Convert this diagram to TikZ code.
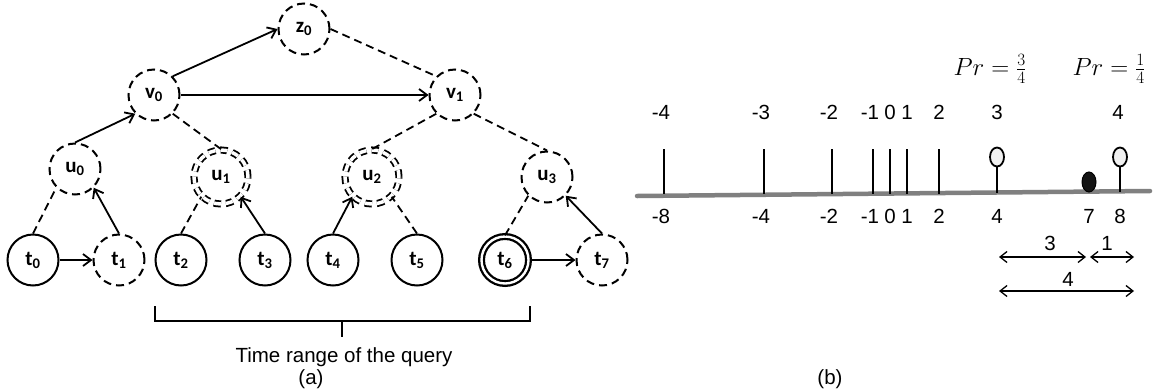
\documentclass[tikz,border=0pt]{standalone}
\usepackage{fontspec}
\setmainfont{Liberation Sans}
\newfontfamily\nodefont{Carlito}
\usetikzlibrary{arrows.meta,shapes.geometric}
\newcommand\nl[2]{#1\textsubscript{#2}}
\begin{document}
\begin{tikzpicture}[x=1pt,y=-1pt,
  every node/.style={inner sep=0pt},
  tn/.style={circle, draw, line width=2pt, minimum size=51pt, font=\nodefont\bfseries\fontsize{21}{21}\selectfont},
  dn/.style={tn, dash pattern=on 8pt off 5pt},
  ddn/.style={tn, double, double distance=3.5pt, line width=1.8pt, minimum size=54pt, dash pattern=on 7pt off 5pt},
  sdn/.style={tn, double, double distance=2.4pt, line width=2.3pt, minimum size=47pt},
  arr/.style={line width=1.8pt, -{Straight Barb[length=8pt,width=12pt,line width=1.8pt]}},
  dl/.style={line width=1.8pt, dash pattern=on 8pt off 5pt},
  txt/.style={font=\fontsize{20.5}{20.5}\selectfont},
  tick/.style={line width=2pt},
  darr/.style={line width=1.3pt, {Straight Barb[length=7pt,width=11pt,line width=1.3pt]}-{Straight Barb[length=7pt,width=11pt,line width=1.3pt]}},
  lolli/.style={ellipse, draw, line width=1.8pt, fill=black!6, minimum width=14pt, minimum height=19pt},
]
\useasboundingbox (0,0) rectangle (1156,389);
% ---------- (a) tree ----------
\node[dn] (z0) at (304,29) {\nl{z}{0}};
\node[dn] (v0) at (154,95) {\nl{v}{0}};
\node[dn] (v1) at (455,95) {\nl{v}{1}};
\node[dn] (u0) at (75,169) {\nl{u}{0}};
\node[ddn] (u1) at (221,177) {\nl{u}{1}};
\node[ddn] (u2) at (372,177) {\nl{u}{2}};
\node[dn] (u3) at (547,177) {\nl{u}{3}};
\node[tn] (t0) at (33,260) {\nl{t}{0}};
\node[dn] (t1) at (119,260) {\nl{t}{1}};
\node[tn] (t2) at (181,260) {\nl{t}{2}};
\node[tn] (t3) at (265,260) {\nl{t}{3}};
\node[tn] (t4) at (333,260) {\nl{t}{4}};
\node[tn] (t5) at (417,260) {\nl{t}{5}};
\node[sdn] (t6) at (505,260) {\nl{t}{6}};
\node[dn] (t7) at (602,260) {\nl{t}{7}};

\draw[arr] (t0) -- (t1);
\draw[arr] (t1.north) -- (u0.south east);
\draw[arr] (u0.north) -- (v0.south west);
\draw[arr] (v0.north east) -- (z0.west);
\draw[arr] (v0) -- (v1);
\draw[arr] (t3.north) -- (u1.south east);
\draw[arr] (t4.north) -- (u2.south west);
\draw[arr] (t6) -- (t7);
\draw[arr] (t7.north) -- (u3.south east);

\draw[dl] (t0.north) -- (u0.south west);
\draw[dl] (t2.north) -- (u1.south west);
\draw[dl] (t5.north) -- (u2.south east);
\draw[dl] (t6.north) -- (u3.south west);
\draw[dl] (v0.south east) -- (u1.north);
\draw[dl] (v1.south west) -- (u2.north);
\draw[dl] (v1.south east) -- (u3.north);
\draw[dl] (z0.east) -- (v1.north west);

\coordinate (bl) at (155,306);
\coordinate (br) at (530,306);
\coordinate (bm) at (342,321);
\draw[line width=1.8pt] (bl) -- (bl |- bm) -- (br |- bm) -- (br);
\draw[line width=1.8pt] (bm) -- ++(0,16);
\node[txt] (trq) at (344,357) {Time range of the query};
\node[txt] (la) at (311,379) {(a)};

% ---------- (b) number line ----------
\coordinate (L0) at (637,196);
\coordinate (L1) at (1150,191);
\draw[line width=4.5pt, color=black!50, line cap=round] (L0) -- (L1);
\foreach \x in {664,764,832,873,890,907,939}{
  \draw[tick] (\x,149) -- (\x,194);
}
\node[lolli] (p4) at (997,157) {};
\node[lolli] (p8) at (1120,157) {};
\coordinate (s4) at (997,193);
\coordinate (s8) at (1120,192);
\draw[tick] (p4) -- (s4);
\draw[tick] (p8) -- (s8);
\node[ellipse, fill=black!92, draw, line width=1pt, minimum width=14pt, minimum height=20pt] (d7) at (1089,182) {};

\foreach \x/\t in {664/-4,764/-3,832/-2,873/-1}{
  \node[txt] at (\x-3,112) {\t};
}
\foreach \x/\t in {890/0,907/1,939/2,997/3,1118/4}{
  \node[txt] at (\x,112) {\t};
}
\foreach \x/\t in {664/-8,764/-4,832/-2,873/-1}{
  \node[txt] at (\x-3,216) {\t};
}
\foreach \x/\t in {890/0,907/1,939/2,997/4,1089/7,1120/8}{
  \node[txt] at (\x,216) {\t};
}

\node[font=\fontsize{27}{27}\selectfont] (pr1) at (990,69) {$Pr=\frac{3}{4}$};
\node[font=\fontsize{27}{27}\selectfont] (pr2) at (1109,69) {$Pr=\frac{1}{4}$};

\coordinate (a0) at (999,257);
\coordinate (a1) at (1086,257);
\coordinate (a2) at (1090,257);
\coordinate (a3) at (1134,257);
\draw[darr] (a0) -- (a1);
\draw[darr] (a2) -- (a3);
\node[txt] (n3) at (1050,243) {3};
\node[txt] (n1) at (1107,243) {1};
\coordinate (b0) at (999,291);
\coordinate (b1) at (1134,291);
\draw[darr] (b0) -- (b1);
\node[txt] (n4) at (1068,279) {4};
\node[txt] (lb) at (830,379) {(b)};
\end{tikzpicture}
\end{document}
